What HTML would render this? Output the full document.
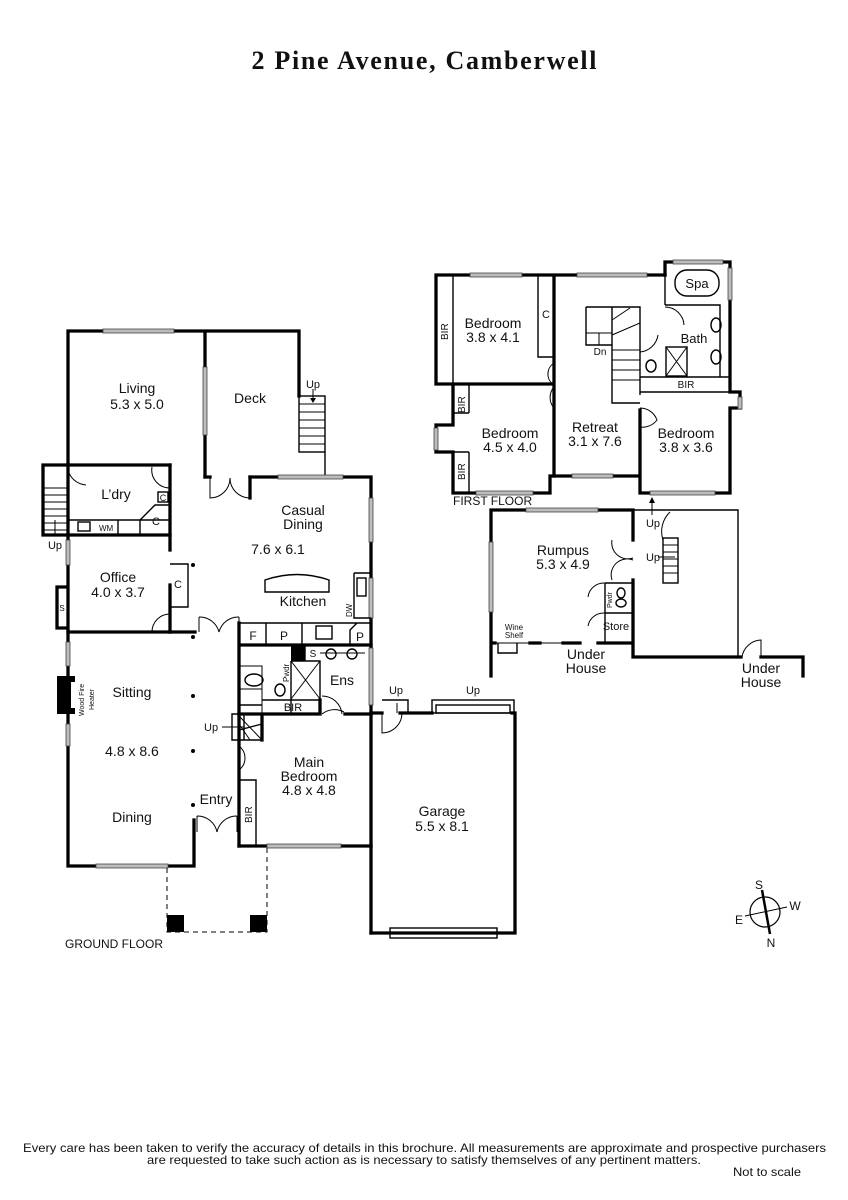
<!DOCTYPE html>
<html><head><meta charset="utf-8"><style>
html,body{margin:0;padding:0;background:#fff;}
svg{display:block;}
text{font-family:"Liberation Sans",sans-serif;fill:#111;}
.w{stroke:#000;stroke-width:3.3;fill:none;stroke-linecap:square;}
.t{stroke:#000;stroke-width:1.4;fill:none;}
.d{stroke:#000;stroke-width:1;fill:none;}
.win{fill:#bdbdbd;stroke:#444;stroke-width:0.8;}
.lbl{font-size:14px;text-anchor:middle;}
.sm{font-size:10px;text-anchor:middle;}
</style></head><body>
<svg width="848" height="1200" viewBox="0 0 848 1200" xmlns="http://www.w3.org/2000/svg">
<text x="424" y="69" text-anchor="middle" style="font-family:'Liberation Serif',serif;font-weight:bold;font-size:26px" textLength="345">2 Pine Avenue, Camberwell</text>

<!-- ============ GROUND FLOOR ============ -->
<path class="w" d="M68 331 H205 V477 M68 331 V465 H170 M205 331 H299 V396"/>
<rect class="win" x="103" y="329" width="71" height="4"/>
<rect class="win" x="203" y="367" width="4" height="68"/>
<rect class="t" x="299" y="396" width="26" height="56"/>
<path class="d" d="M299 404H325M299 412H325M299 420H325M299 428H325M299 436H325M299 444H325"/>
<path class="d" d="M313 389V402"/><path d="M310 398L313 403L316 398Z"/>
<text class="sm" x="313" y="388" style="font-size:11px">Up</text>
<path class="t" d="M325 452V477"/>
<path class="w" d="M205 477 H210 M250 477 V498"/>
<path class="d" d="M210 477V498 A20 20 0 0 0 230 478 M250 498 A20 20 0 0 1 230 478"/>
<path class="w" d="M250 477 H371 V933"/>
<rect class="win" x="278" y="475" width="65" height="4"/>
<rect class="win" x="369" y="498" width="4" height="44"/>
<rect class="win" x="369" y="578" width="4" height="40"/>
<rect class="win" x="369" y="648" width="4" height="57"/>
<path class="w" d="M43 465 H68 M43 465 V535 H68 M170 465 V550 M170 585 V632"/>
<path class="d" d="M43 488H68M43 495H68M43 502H68M43 509H68M43 516H68M43 523H68M43 530H68"/>
<path class="d" d="M55 520V535"/><text class="sm" x="55" y="549" style="font-size:11px">Up</text>
<path class="w" d="M68 465 V535"/>
<path class="d" d="M68 470 A20 20 0 0 0 86 485 M152 467 A18 18 0 0 0 170 488"/>
<path class="t" d="M68 520 H170 M140 520 V535 M118 520 V535"/>
<rect class="t" x="78" y="522" width="12" height="9"/>
<text x="99" y="531" style="font-size:8px">WM</text>
<path class="t" d="M140 520 L155 505 H170"/>
<text class="sm" x="156" y="525" style="font-size:11px">C</text>
<rect class="t" x="158" y="492" width="10" height="10"/><text class="sm" x="163" y="501" style="font-size:9px">C</text>
<path class="w" d="M68 535 H170 M68 535 V632 H170 M57 587 H68 M57 587 V628 H68"/>
<rect class="win" x="66" y="540" width="4" height="25"/>
<text class="sm" x="62" y="611" style="font-size:8px">S</text>
<path class="t" d="M170 564 H188 V607 H170"/>
<text class="sm" x="178" y="588" style="font-size:11px">C</text>
<path class="d" d="M152 632 A18 18 0 0 1 170 614"/>
<circle cx="193" cy="565" r="2" fill="#000"/>
<circle cx="193" cy="637" r="2" fill="#000"/>
<path class="w" d="M170 632 H195"/>
<path class="d" d="M199 617 V632 M239 617 V632 M199 617 A20 20 0 0 1 219 632 M239 617 A20 20 0 0 0 219 632"/>
<path class="t" d="M265 580 Q297 569 329 580 V592 H265 Z"/>
<path class="t" d="M354 573 H371 M354 573 V618 H371"/>
<rect class="t" x="357" y="578" width="9" height="18"/>
<text x="352" y="617" style="font-size:8px" transform="rotate(-90 352 617)">DW</text>
<path class="w" d="M239 623 V846 M239 645 H371"/>
<path class="t" d="M239 623 H350 L362 623 M266 623 V645 M302 623 V645 M350 645 V630 L357 623 H371"/>
<text class="sm" x="253" y="640" style="font-size:12px">F</text>
<text class="sm" x="284" y="640" style="font-size:12px">P</text>
<rect class="t" x="316" y="626" width="16" height="13"/>
<text class="sm" x="360" y="641" style="font-size:12px">P</text>
<rect x="291" y="645" width="14" height="16" fill="#000"/>
<path class="t" d="M305 645 V661 H320 M291 661 H320 V714 M291 661 V714"/>
<path class="d" d="M291 661 L320 699 M320 661 L291 699 M239 666 H262 V714 M239 689 H262"/>
<text class="sm" x="313" y="657" style="font-size:10px">S</text>
<ellipse class="t" cx="254" cy="680" rx="9" ry="6"/>
<ellipse class="t" cx="280" cy="690" rx="5" ry="6"/>
<text x="289" y="682" style="font-size:8px" transform="rotate(-90 289 682)">Pwdr</text>
<path class="d" d="M320 653 H365"/><circle class="t" cx="331" cy="654" r="5"/><circle class="t" cx="352" cy="654" r="5"/>
<text class="lbl" x="342" y="685">Ens</text>
<path class="w" d="M239 714 H320 M345 714 H371 M262 714 V740 M320 714 V700"/>
<path class="t" d="M262 700 H320"/>
<text class="sm" x="293" y="711" style="font-size:11px">BIR</text>
<path class="d" d="M322 714 A20 20 0 0 1 344 712 M322 696 A20 20 0 0 1 342 714"/>
<path class="t" d="M262 714 V740 H239 M239 705 H262 M239 730 L262 724 M232 714 H244 V740 H232 Z"/>
<path class="d" d="M239 716 L262 740 M239 724 L250 740"/>
<text x="204" y="731" style="font-size:11px">Up</text><path class="d" d="M222 727H244"/>
<path class="d" d="M239 746 A15 15 0 0 1 239 770"/>
<path class="w" d="M68 632 V866 H194 V820 M239 846 H371"/>
<rect x="57" y="676" width="18" height="38" fill="#000"/><rect x="71" y="682" width="4" height="26" fill="#fff"/>
<rect class="win" x="66" y="642" width="4" height="24"/>
<rect class="win" x="66" y="724" width="4" height="22"/>
<text x="84" y="716" style="font-size:7px" transform="rotate(-90 84 716)">Wood Fire</text>
<text x="94" y="710" style="font-size:7px" transform="rotate(-90 94 710)">Heater</text>
<rect class="win" x="96" y="864" width="72" height="4"/>
<rect class="win" x="267" y="844" width="74" height="4"/>
<circle cx="193" cy="696" r="2" fill="#000"/><circle cx="193" cy="751" r="2" fill="#000"/><circle cx="193" cy="805" r="2" fill="#000"/>
<path class="d" d="M197 816 V832 M237 816 V832 M197 816 A20 20 0 0 1 217 832 M237 816 A20 20 0 0 0 217 832"/>
<path class="t" d="M239 780 H256 V846"/>
<text x="252" y="823" style="font-size:10px" transform="rotate(-90 252 823)">BIR</text>
<path class="d" stroke-dasharray="5,4" d="M167 868 V932 H267 V848"/>
<rect x="167" y="915" width="17" height="17" fill="#000"/><rect x="250" y="915" width="17" height="17" fill="#000"/>
<path class="w" d="M371 713 H382 M400 713 H432 M512 713 H515 V933 H371"/>
<rect class="t" x="432" y="700" width="82" height="13"/><rect class="t" x="436" y="705" width="74" height="8"/>
<path class="t" d="M382 700 H408 V713"/>
<path class="d" d="M382 713 V733 A20 20 0 0 0 402 713 M397 703 V713"/>
<text class="sm" x="396" y="694" style="font-size:11px">Up</text>
<text class="sm" x="473" y="694" style="font-size:11px">Up</text>
<rect class="t" x="390" y="928" width="107" height="10"/>

<text class="lbl" x="137" y="393">Living</text><text class="lbl" x="137" y="409">5.3 x 5.0</text>
<text class="lbl" x="250" y="403">Deck</text>
<text class="lbl" x="116" y="499">L’dry</text>
<text class="lbl" x="118" y="582">Office</text><text class="lbl" x="118" y="597">4.0 x 3.7</text>
<text class="lbl" x="303" y="515">Casual</text><text class="lbl" x="303" y="529">Dining</text>
<text class="lbl" x="278" y="554">7.6 x 6.1</text>
<text class="lbl" x="303" y="606">Kitchen</text>
<text class="lbl" x="132" y="697">Sitting</text>
<text class="lbl" x="132" y="756">4.8 x 8.6</text>
<text class="lbl" x="132" y="822">Dining</text>
<text class="lbl" x="216" y="804">Entry</text>
<text class="lbl" x="309" y="767">Main</text><text class="lbl" x="309" y="781">Bedroom</text><text class="lbl" x="309" y="795">4.8 x 4.8</text>
<text class="lbl" x="442" y="816">Garage</text><text class="lbl" x="442" y="831">5.5 x 8.1</text>
<text x="65" y="948" style="font-size:12px">GROUND FLOOR</text>

<!-- ============ FIRST FLOOR ============ -->
<path class="w" d="M436 275 H665 M436 275 V384 H554 M453 384 V425 H436 V452 H453 V493 H550 V476 H554 V275 M554 384 V382"/>
<path class="w" d="M665 262 H730 V392 H740 V408 H730 V493 H640 V476 H554 M665 262 V275 M640 476 V410"/>
<rect class="win" x="470" y="273" width="52" height="4"/>
<rect class="win" x="577" y="273" width="70" height="4"/>
<rect class="win" x="673" y="260" width="50" height="4"/>
<rect class="win" x="728" y="268" width="4" height="32"/>
<rect class="win" x="738" y="397" width="4" height="12"/>
<rect class="win" x="434" y="428" width="4" height="22"/>
<rect class="win" x="476" y="491" width="57" height="4"/>
<rect class="win" x="572" y="474" width="41" height="4"/>
<rect class="win" x="650" y="491" width="65" height="4"/>
<path class="t" d="M453 275 V384 M469 384 V413 M469 452 V493 M453 413 H469 M453 452 H469"/>
<text x="448" y="340" style="font-size:10px" transform="rotate(-90 448 340)">BIR</text>
<text x="465" y="413" style="font-size:10px" transform="rotate(-90 465 413)">BIR</text>
<text x="465" y="480" style="font-size:10px" transform="rotate(-90 465 480)">BIR</text>
<path class="t" d="M538 275 V357 H554"/>
<text class="sm" x="546" y="318" style="font-size:11px">C</text>
<path class="d" d="M554 363 A13 13 0 0 0 554 385 M554 387 A16 16 0 0 0 554 408"/>
<path class="t" d="M586 307 H640 V395 M612 307 V403 H640 M586 307 V345 H612"/>
<path class="d" d="M586 333 H612 M612 320 L630 308 M612 335 L640 323 M612 350 H640 M612 360 H640 M612 370 H640 M612 380 H640"/>
<path class="d" d="M599 333 V345"/>
<text class="sm" x="600" y="355" style="font-size:10px">Dn</text>
<path class="t" d="M665 305 H720 V377 M665 305 V275 M640 377 H730 M640 392 H730"/>
<rect class="t" x="675" y="270" width="44" height="26" rx="12"/>
<text class="sm" x="697" y="288" style="font-size:13px">Spa</text>
<ellipse class="t" cx="716" cy="325" rx="5" ry="7"/><ellipse class="t" cx="716" cy="357" rx="5" ry="7"/>
<rect class="t" x="666" y="347" width="21" height="29"/>
<path class="d" d="M666 347 L687 376 M687 347 L666 376"/>
<ellipse class="t" cx="651" cy="366" rx="5" ry="6"/>
<path class="d" d="M665 307 A19 19 0 0 1 684 325 M640 352 A20 20 0 0 0 658 335"/>
<text class="sm" x="686" y="388" style="font-size:10px">BIR</text>
<path class="d" d="M640 408 A18 18 0 0 1 657 420 A18 18 0 0 1 640 427"/>
<path class="d" d="M652 515 V500"/><path d="M649 503 L652 497 L655 503Z"/>
<text class="lbl" x="493" y="328">Bedroom</text><text class="lbl" x="493" y="342">3.8 x 4.1</text>
<text class="lbl" x="510" y="438">Bedroom</text><text class="lbl" x="510" y="452">4.5 x 4.0</text>
<text class="lbl" x="595" y="432">Retreat</text><text class="lbl" x="595" y="446">3.1 x 7.6</text>
<text class="lbl" x="686" y="438">Bedroom</text><text class="lbl" x="686" y="452">3.8 x 3.6</text>
<text class="lbl" x="694" y="343" style="font-size:13px">Bath</text>
<text x="453" y="505" style="font-size:12px">FIRST FLOOR</text>

<path class="w" d="M491 510 H633 V540 M633 580 V657 M491 510 V676 M491 643 H495 M530 643 H540 M563 643 H580 M598 643 H633 M633 657 H741 M761 657 H803 V676"/>
<rect class="win" x="526" y="508" width="72" height="4"/>
<rect class="win" x="489" y="542" width="4" height="70"/>
<path class="t" d="M633 510 H738 V657"/>
<path class="d" d="M495 643 H563 M612 540 A16 16 0 0 0 633 558 M612 580 A16 16 0 0 1 633 560"/>
<path class="t" d="M498 643 V653 H517 V643"/>
<path class="t" d="M605 583 H633 M605 583 V643 M605 613 H633"/>
<path class="d" d="M588 597 A16 16 0 0 1 605 583 M588 626 A16 16 0 0 1 605 613"/>
<ellipse class="t" cx="621" cy="593" rx="4" ry="5"/><ellipse class="t" cx="621" cy="603" rx="5" ry="4"/>
<text x="612" y="608" style="font-size:7px" transform="rotate(-90 612 608)">Pwdr</text>
<text class="sm" x="616" y="630" style="font-size:11px">Store</text>
<rect class="t" x="663" y="538" width="15" height="45"/>
<path class="d" d="M663 545H678M663 552H678M663 559H678M663 566H678M663 573H678M658 557H675 M670 512 A27 27 0 0 0 663 540"/>
<text class="sm" x="653" y="561" style="font-size:11px">Up</text>
<text class="sm" x="653" y="527" style="font-size:11px">Up</text>
<path class="d" d="M742 657 A20 20 0 0 1 761 640 V657"/>
<text class="lbl" x="563" y="555">Rumpus</text><text class="lbl" x="563" y="569">5.3 x 4.9</text>
<text class="sm" x="514" y="630" style="font-size:8px">Wine</text><text class="sm" x="514" y="638" style="font-size:8px">Shelf</text>
<text class="lbl" x="586" y="659">Under</text><text class="lbl" x="586" y="673">House</text>
<text class="lbl" x="761" y="673">Under</text><text class="lbl" x="761" y="687">House</text>

<circle cx="765" cy="912" r="15" stroke="#000" stroke-width="1.2" fill="none"/>
<path d="M762 890 L770 934" stroke="#000" stroke-width="2.5"/>
<path d="M745 916 L787 907" stroke="#000" stroke-width="1"/>
<text class="sm" x="759" y="889" style="font-size:12px">S</text>
<text class="sm" x="795" y="910" style="font-size:12px">W</text>
<text class="sm" x="739" y="924" style="font-size:12px">E</text>
<text class="sm" x="771" y="947" style="font-size:12px">N</text>

<text x="23" y="1152" style="font-size:12px" textLength="803" lengthAdjust="spacingAndGlyphs">Every care has been taken to verify the accuracy of details in this brochure.  All measurements are approximate and prospective purchasers</text>
<text x="147" y="1164" style="font-size:12px" textLength="554" lengthAdjust="spacingAndGlyphs">are requested to take such action as is necessary to satisfy themselves of any pertinent matters.</text>
<text x="733" y="1176" style="font-size:12px" textLength="68" lengthAdjust="spacingAndGlyphs">Not to scale</text>
</svg>
</body></html>
